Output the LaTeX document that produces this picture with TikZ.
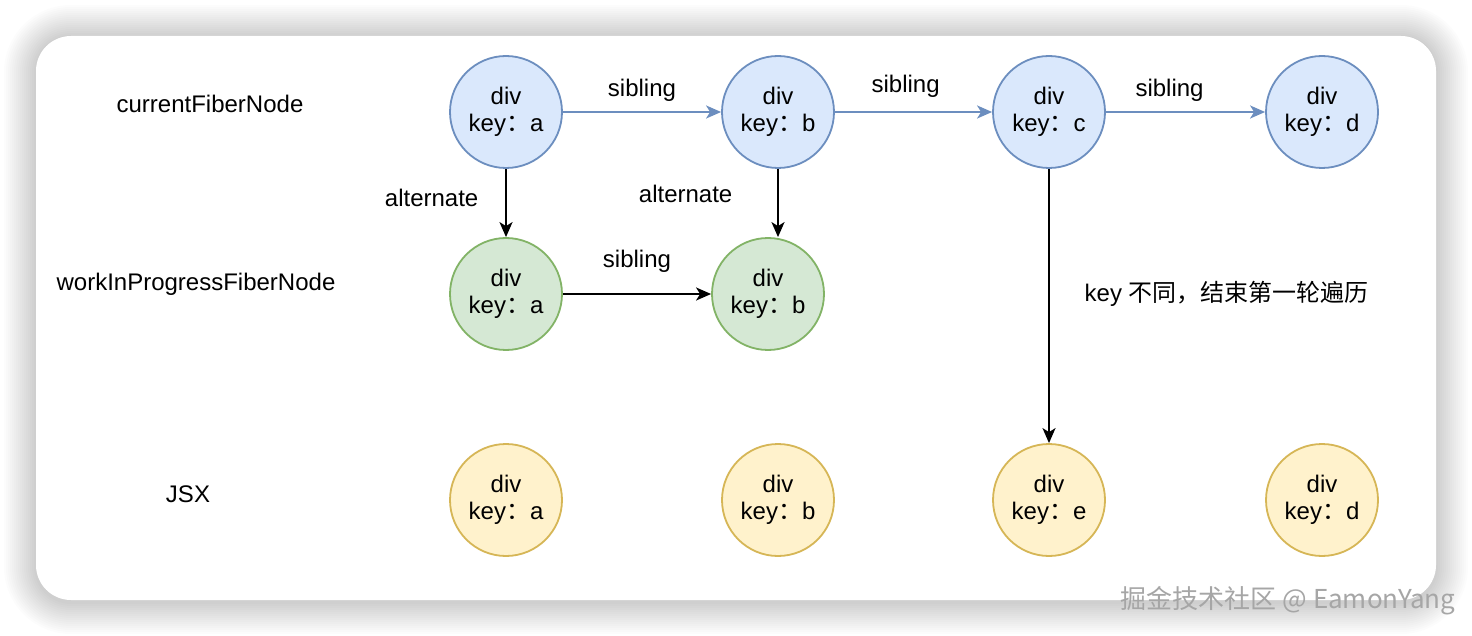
\documentclass[tikz,border=0pt]{standalone}
\usepackage{fontspec}
\setmainfont{Liberation Sans}
\newfontfamily\cjk{Noto Sans CJK SC}
\usetikzlibrary{arrows.meta}
\definecolor{bluefill}{HTML}{DAE8FC}
\definecolor{bluedraw}{HTML}{6C8EBF}
\definecolor{greenfill}{HTML}{D5E8D4}
\definecolor{greendraw}{HTML}{82B366}
\definecolor{yellowfill}{HTML}{FFF2CC}
\definecolor{yellowdraw}{HTML}{D6B656}
\tikzstyle{fiber} = [circle,minimum size=56pt,inner sep=0pt,line width=0.9pt,align=center,font=\fontsize{12}{14.5}\selectfont]
\tikzstyle{curnode} = [fiber,draw=bluedraw,fill=bluefill]
\tikzstyle{wipnode} = [fiber,draw=greendraw,fill=greenfill]
\tikzstyle{jsxnode} = [fiber,draw=yellowdraw,fill=yellowfill]
\tikzstyle{txt} = [font=\fontsize{12}{14}\selectfont]
\tikzstyle{arrow} = [line width=1pt,-{Stealth[length=7.5pt,width=6.5pt,inset=2pt]}]
\tikzstyle{bluearrow} = [arrow,draw=bluedraw,fill=bluedraw]
\newcommand{\divkey}[1]{\raisebox{-1pt}{\shortstack{div\\[1.5pt]key{\cjk ：}#1}}}

\begin{document}
\begin{tikzpicture}[x=0.5pt,y=-0.5pt]
	\useasboundingbox (0,0) rectangle (1472,636);
	\fill[white] (0,0) rectangle (1472,636);
	% soft shadow round the card
	\foreach \i [evaluate=\i as \r using 17.5+\i] in {1,...,16}
		\fill[black,opacity=0.011,rounded corners=\r pt] ({36-2*\i},{37-2*\i}) rectangle ({1436+2*\i},{602+2*\i});
	\fill[white,rounded corners=17.5pt] (36,36) rectangle (1436,600);
	% row titles
	\node[txt] (title-cur) at (210,104) {currentFiberNode};
	\node[txt] (title-wip) at (196,284) {workInProgressFiberNode};
	\node[txt] (title-jsx) at (188,494) {JSX};
	% current fiber nodes
	\node[curnode] (cur-a) at (506,112) {\divkey{a}};
	\node[curnode] (cur-b) at (778,112) {\divkey{b}};
	\node[curnode] (cur-c) at (1049,112) {\divkey{c}};
	\node[curnode] (cur-d) at (1322,112) {\divkey{d}};
	% work in progress
	\node[wipnode] (wip-a) at (506,294) {\divkey{a}};
	\node[wipnode] (wip-b) at (768,294) {\divkey{b}};
	% jsx
	\node[jsxnode] (jsx-a) at (506,500) {\divkey{a}};
	\node[jsxnode] (jsx-b) at (778,500) {\divkey{b}};
	\node[jsxnode] (jsx-e) at (1049,500) {\divkey{e}};
	\node[jsxnode] (jsx-d) at (1322,500) {\divkey{d}};
	% sibling links
	\draw[bluearrow] (cur-a) -- (cur-b) node [txt,midway,above=1.5pt] {sibling};
	\draw[bluearrow] (cur-b) -- (cur-c) node [txt,pos=0.45,above=3.5pt] {sibling};
	\draw[bluearrow] (cur-c) -- (cur-d) node [txt,pos=0.4,above=1.5pt] {sibling};
	\draw[arrow] (wip-a) -- (wip-b) node [txt,midway,above=7pt] {sibling};
	% alternate links
	\draw[arrow] (cur-a) -- (wip-a) node [txt,midway,left=10pt,yshift=2.5pt] {alternate};
	\draw[arrow] (cur-b.south) -- (cur-b.south |- wip-b.north) node [txt,midway,left=19pt,yshift=4.5pt] {alternate};
	\draw[arrow] (cur-c) -- (jsx-e) node [txt,midway,right=14pt,yshift=6pt] {key {\cjk 不同，结束第一轮遍历}};
	% watermark
	\node[font=\cjk\fontsize{13}{13}\selectfont,text=gray!70] (mark) at (1288,601) {掘金技术社区 @ EamonYang};
\end{tikzpicture}
\end{document}
